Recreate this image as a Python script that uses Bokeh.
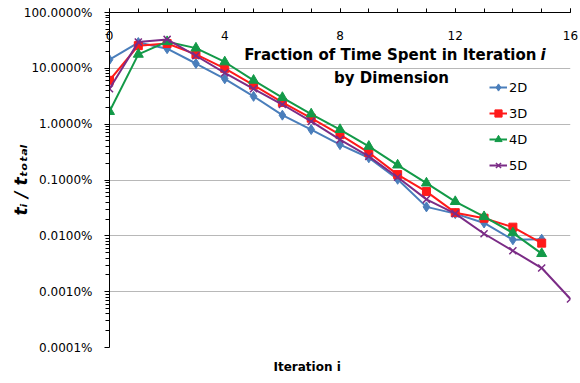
import math
from bokeh.plotting import figure
from bokeh.models import (FixedTicker, SingleIntervalTicker, Range1d, Label,
                          ColumnDataSource, Legend, LegendItem, Title)
from bokeh.embed import file_html
from bokeh.resources import INLINE

# ---------------- data (percent of total time) ----------------
iter_4 = list(range(16))
iter_5 = list(range(17))
pct_2d = [14.3, 29.0, 22.5, 12.2, 6.5, 3.15, 1.45, 0.80, 0.43, 0.25, 0.103, 0.033, 0.025, 0.017, 0.0085, 0.0087]
pct_3d = [6.1, 25.5, 27.8, 17.8, 10.0, 5.0, 2.45, 1.28, 0.65, 0.31, 0.125, 0.062, 0.026, 0.0207, 0.0143, 0.0074]
pct_4d = [1.68, 17.8, 30.0, 23.0, 13.0, 6.1, 3.0, 1.52, 0.80, 0.40, 0.185, 0.088, 0.041, 0.022, 0.0113, 0.0048]
pct_5d = [4.3, 29.5, 33.0, 16.8, 8.3, 4.3, 2.25, 1.12, 0.53, 0.265, 0.112, 0.045, 0.025, 0.0109, 0.0054, 0.00265, 0.00074]

series_names = ["2D", "3D", "4D", "5D"]
x_tick_values = [0, 4, 8, 12, 16]
x_tick_labels = ["0", "4", "8", "12", "16"]
y_tick_values = [100, 10, 1, 0.1, 0.01, 0.001, 0.0001]
y_tick_labels = ["100.0000%", "10.0000%", "1.0000%", "0.1000%", "0.0100%", "0.0010%", "0.0001%"]

FONT = "DejaVu Sans"

p = figure(width=580, height=383, y_axis_type="log",
           x_range=Range1d(0, 16), y_range=Range1d(0.0001, 100),
           x_axis_location="above",
           output_backend="svg", toolbar_location=None,
           min_border_left=109, min_border_right=10,
           min_border_top=12, min_border_bottom=35)
p.outline_line_color = None
p.background_fill_color = "white"
p.border_fill_color = "white"

# grid
p.xgrid.visible = False
p.ygrid.grid_line_color = "#b8b8b8"
p.ygrid.grid_line_width = 1
p.ygrid.minor_grid_line_color = None

# top x axis: ticks point up, labels sit below the line inside the plot
xa = p.xaxis[0]
xa.ticker = SingleIntervalTicker(interval=4, num_minor_ticks=4)
xa.major_label_overrides = dict(zip(x_tick_values, x_tick_labels))
xa.axis_line_color = "black"
xa.major_tick_line_color = "black"
xa.minor_tick_line_color = "black"
xa.major_tick_in = 0
xa.major_tick_out = 4
xa.minor_tick_in = 0
xa.minor_tick_out = 4
xa.major_label_standoff = -31
xa.major_label_text_font = FONT
xa.major_label_text_font_size = "12px"
xa.major_label_text_color = "black"

# left y axis
ya = p.yaxis[0]
minor = [m * 10.0 ** e for e in range(-4, 2) for m in range(2, 10)]
ya.ticker = FixedTicker(ticks=y_tick_values, minor_ticks=minor)
ya.major_label_overrides = dict(zip(y_tick_values, y_tick_labels))
ya.axis_line_color = "black"
ya.major_tick_line_color = "black"
ya.minor_tick_line_color = "black"
ya.major_tick_in = 0
ya.major_tick_out = 5
ya.minor_tick_in = 0
ya.minor_tick_out = 4
ya.major_label_standoff = 12
ya.major_label_text_font = FONT
ya.major_label_text_font_size = "12px"
ya.major_label_text_color = "black"
ya.axis_label = "t\u1d62 / t\u209c\u2092\u209c\u2090\u2097"
ya.axis_label_text_font = FONT
ya.axis_label_text_font_size = "17px"
ya.axis_label_text_font_style = "bold italic"
ya.axis_label_text_color = "black"
ya.axis_label_standoff = -10

# series
colors = ["#4a7ebb", "#ff1a1a", "#139a48", "#7b2c86"]
xs = [iter_4, iter_4, iter_4, iter_5]
ys = [pct_2d, pct_3d, pct_4d, pct_5d]
markers = ["diamond", "square", "triangle", "x"]
msizes = [10, 8, 10, 10]
items = []
for name, c, x, y, m, s in zip(series_names, colors, xs, ys, markers, msizes):
    src = ColumnDataSource(dict(x=x, y=y))
    lr = p.line("x", "y", source=src, line_color=c, line_width=2)
    if m == "x":
        sr = p.scatter("x", "y", source=src, marker=m, size=s, line_color=c, line_width=1.5)
    else:
        sr = p.scatter("x", "y", source=src, marker=m, size=s, fill_color=c, line_color=c)
    items.append(LegendItem(label=name, renderers=[lr, sr]))

legend = Legend(items=items, location=(380, 172), orientation="vertical",
                background_fill_alpha=0, border_line_color=None,
                padding=0, margin=0, spacing=6,
                glyph_width=18, glyph_height=20, label_height=20,
                label_standoff=2,
                label_text_font=FONT, label_text_font_size="13px",
                label_text_color="black")
p.add_layout(legend, "center")

# title (two lines) inside the plot area
common = dict(x_units="screen", y_units="screen", text_color="black",
              text_font_size="15px", text_baseline="middle", text_font=FONT)
p.add_layout(Label(x=427, y=293, text="Fraction of Time Spent in Iteration",
                   text_align="right", text_font_style="bold", **common))
p.add_layout(Label(x=431, y=293, text="i", text_align="left",
                   text_font_style="bold italic", **common))
p.add_layout(Label(x=282, y=270, text="by Dimension", text_align="center",
                   text_font_style="bold", **common))

# x axis title at the bottom
p.add_layout(Title(text="Iteration i", align="left", offset=164,
                   text_font=FONT, text_font_size="12px", text_font_style="bold",
                   text_color="black", standoff=20), "below")

open("out.html", "w").write(file_html(p, INLINE))
